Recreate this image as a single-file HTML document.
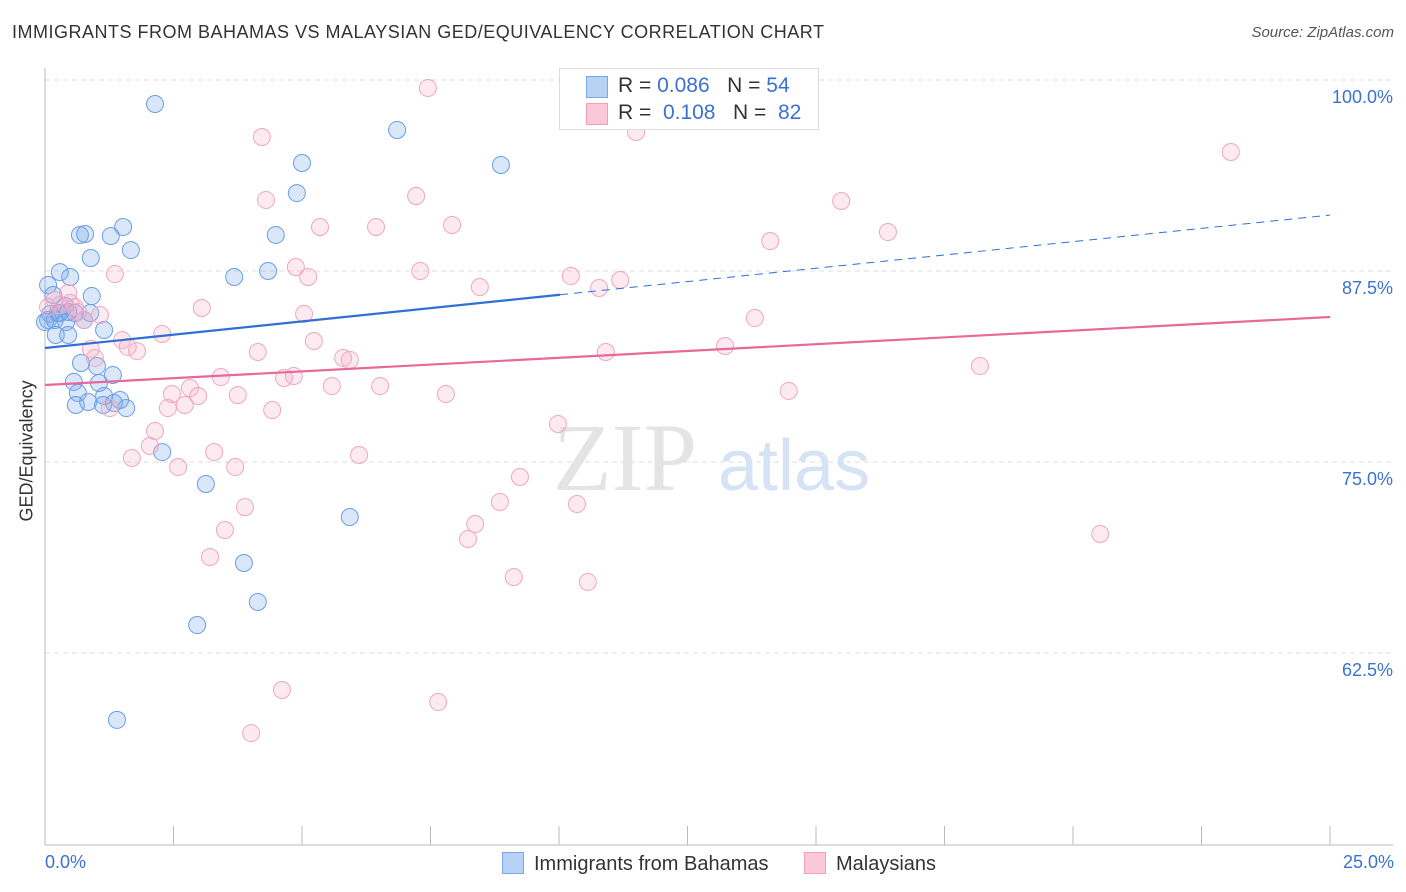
<!DOCTYPE html>
<html><head><meta charset="utf-8">
<style>
body{margin:0;background:#fff;font-family:"Liberation Sans",sans-serif;}
#wrap{position:relative;width:1406px;height:892px;overflow:hidden;}
.t{position:absolute;white-space:nowrap;}
</style></head>
<body>
<div id="wrap">
<div class="t" style="left:12px;top:22px;font-size:18px;letter-spacing:0.5px;color:#333;">IMMIGRANTS FROM BAHAMAS VS MALAYSIAN GED/EQUIVALENCY CORRELATION CHART</div>
<div class="t" style="right:12px;top:24px;font-size:15px;color:#555;font-style:italic;">Source: ZipAtlas.com</div>
<svg id="chart" width="1406" height="892" style="position:absolute;left:0;top:0"></svg>
</div>
<script>
const xTickLabels=["0.0%","25.0%"];
const yTickValues=[62.5,75,87.5,100];
const yTickLabels=["62.5%","75.0%","87.5%","100.0%"];
const blueX=[2.14,6.85,5.00,8.87,4.90,1.52,0.68,0.78,1.28,4.49,1.67,0.89,0.29,0.49,4.34,3.68,0.06,0.16,0.91,0.39,0.25,0.10,0.58,0.41,0.76,0.21,0.45,1.15,0.70,1.01,1.32,0.56,1.05,0.64,1.15,0.60,0.84,1.34,1.13,1.58,1.46,2.28,3.13,5.93,3.87,4.14,2.96,1.40,0.06,0.29,0.45,0.00,0.88,0.19];
const blueY=[98.43,96.73,94.57,94.44,92.60,90.38,89.86,89.92,89.79,89.86,88.87,88.35,87.43,87.11,87.50,87.11,86.58,85.93,85.86,85.21,84.75,84.69,84.75,84.16,84.29,83.31,83.31,83.64,81.48,81.28,80.69,80.24,80.17,79.52,79.32,78.73,78.93,78.86,78.73,78.53,79.06,75.65,73.56,71.40,68.39,65.84,64.33,58.12,84.29,84.75,84.82,84.16,84.75,84.29];
const pinkX=[7.45,4.22,11.50,23.07,4.30,7.22,15.49,5.35,6.44,7.92,14.11,16.40,1.36,4.88,5.12,7.30,10.23,11.19,10.78,8.46,0.45,0.19,0.58,3.05,5.04,1.07,0.76,13.81,2.28,1.50,5.23,1.61,1.79,4.14,0.89,10.91,13.23,5.80,5.93,18.19,0.97,3.42,4.65,4.84,2.82,5.58,6.52,2.47,2.98,3.75,7.80,14.47,2.72,1.26,2.39,4.42,9.98,2.14,2.04,3.29,1.69,6.11,2.59,3.70,9.24,8.85,3.89,10.35,8.37,3.50,8.23,20.53,3.21,9.12,10.56,4.61,7.65,4.01,0.29,0.49,0.64,0.06];
const pinkY=[99.48,96.27,96.60,95.29,92.15,92.41,92.08,90.38,90.38,90.51,89.46,90.05,87.30,87.76,87.11,87.50,87.17,86.91,86.39,86.45,86.06,85.60,85.14,85.08,84.69,84.62,84.29,84.42,83.38,82.98,82.92,82.53,82.26,82.20,82.40,82.20,82.59,81.81,81.68,81.28,81.81,80.56,80.50,80.63,79.84,79.97,79.97,79.45,79.32,79.38,79.45,79.65,78.73,78.53,78.53,78.40,77.49,77.03,76.05,75.65,75.26,75.46,74.67,74.67,74.02,72.38,72.05,72.25,70.94,70.55,69.96,70.29,68.78,67.47,67.15,60.08,59.29,57.26,85.27,85.41,84.82,85.14];
const blueTrend=[82.46,91.16];
const blueSolidEnd=10.02;
const pinkTrend=[80.04,84.49];

const NS="http://www.w3.org/2000/svg";
const svg=document.getElementById('chart');
const X0=45,X1=1330,XMAX=25;
const xs=v=>X0+(X1-X0)*v/XMAX;
const ys=v=>80+(100-v)*15.28;
function mk(tag,attrs,parent){const e=document.createElementNS(NS,tag);for(const k in attrs)e.setAttribute(k,attrs[k]);(parent||svg).appendChild(e);return e;}

yTickValues.forEach((v,i)=>{
 const g=mk('line',{x1:X0,x2:1393,y1:ys(v),y2:ys(v),stroke:'#ddd','stroke-dasharray':'5,4','stroke-width':1});
 
 
 const t=mk('text',{x:1393,y:ys(v)+23,'text-anchor':'end','font-size':18,fill:'#3b72d0','font-family':'Liberation Sans, sans-serif'});
 t.textContent=yTickLabels[i];
 
 
});
const ax=mk('line',{x1:X0,x2:1393,y1:845,y2:845,stroke:'#bbb'});


const ay=mk('line',{x1:X0,x2:X0,y1:68,y2:845,stroke:'#bbb'});


for(let i=1;i<=10;i++){
 const tk=mk('line',{x1:X0+i*128.5,x2:X0+i*128.5,y1:826,y2:845,stroke:'#bbb'});
 
 
}
const wm=mk('text',{x:553,y:490,'font-size':96,fill:'#e4e4e4','font-family':'Liberation Serif, serif'});
wm.textContent='ZIP';


const wm2=mk('text',{x:718,y:490,'font-size':72,fill:'#d6e3f5','font-family':'Liberation Sans, sans-serif'});
wm2.textContent='atlas';



blueX.forEach((x,i)=>{
 const c=mk('circle',{cx:xs(x),cy:ys(blueY[i]),r:8.5,fill:'rgba(120,170,235,0.28)',stroke:'#6a9ee6','stroke-width':1});
 
 
});
pinkX.forEach((x,i)=>{
 const c=mk('circle',{cx:xs(x),cy:ys(pinkY[i]),r:8.5,fill:'rgba(248,170,198,0.25)',stroke:'#efa6c0','stroke-width':1});
 
 
});
const bAt=x=>blueTrend[0]+(blueTrend[1]-blueTrend[0])*x/XMAX;
const b1=mk('line',{x1:xs(0),y1:ys(bAt(0)),x2:xs(blueSolidEnd),y2:ys(bAt(blueSolidEnd)),stroke:'#2f6fd6','stroke-width':2.2});


const b2=mk('line',{x1:xs(blueSolidEnd),y1:ys(bAt(blueSolidEnd)),x2:xs(XMAX),y2:ys(bAt(XMAX)),stroke:'#2f6fd6','stroke-width':1,'stroke-dasharray':'8,6'});


const p1=mk('line',{x1:xs(0),y1:ys(pinkTrend[0]),x2:xs(XMAX),y2:ys(pinkTrend[1]),stroke:'#e8689a','stroke-width':2.2});


</script>

<div class="t" style="left:-38px;top:446px;font-size:18px;color:#333;transform:rotate(-90deg);transform-origin:center;width:130px;text-align:center;">GED/Equivalency</div>
<div class="t" style="left:45px;top:852px;font-size:18px;color:#3b72d0;">0.0%</div>
<div class="t" style="right:12px;top:852px;font-size:18px;color:#3b72d0;">25.0%</div>

<div style="position:absolute;left:559px;top:68px;width:258px;height:60px;border:1px solid #ddd;background:#fff;font-size:21px;">
 <div style="position:absolute;left:26px;top:7px;width:20px;height:20px;background:#b8d2f5;border:1px solid #7aa8e8;"></div>
 <div class="t" style="left:58px;top:5px;color:#333;">R = <span style="color:#3b72d0">0.086</span>&nbsp;&nbsp; N = <span style="color:#3b72d0">54</span></div>
 <div style="position:absolute;left:26px;top:34px;width:20px;height:20px;background:#fac8d8;border:1px solid #f0a0bc;"></div>
 <div class="t" style="left:58px;top:32px;color:#333;">R = &nbsp;<span style="color:#3b72d0">0.108</span>&nbsp;&nbsp; N = &nbsp;<span style="color:#3b72d0">82</span></div>
</div>

<div style="position:absolute;left:502px;top:852px;font-size:20px;color:#333;">
 <div style="position:absolute;left:0;top:0;white-space:nowrap;"><span style="display:inline-block;width:20px;height:20px;background:#b8d2f5;border:1px solid #7aa8e8;vertical-align:-4px;margin-right:10px;"></span>Immigrants from Bahamas</div>
 <div style="position:absolute;left:302px;top:0;white-space:nowrap;"><span style="display:inline-block;width:20px;height:20px;background:#fac8d8;border:1px solid #f0a0bc;vertical-align:-4px;margin-right:10px;"></span>Malaysians</div>
</div>
</body></html>
